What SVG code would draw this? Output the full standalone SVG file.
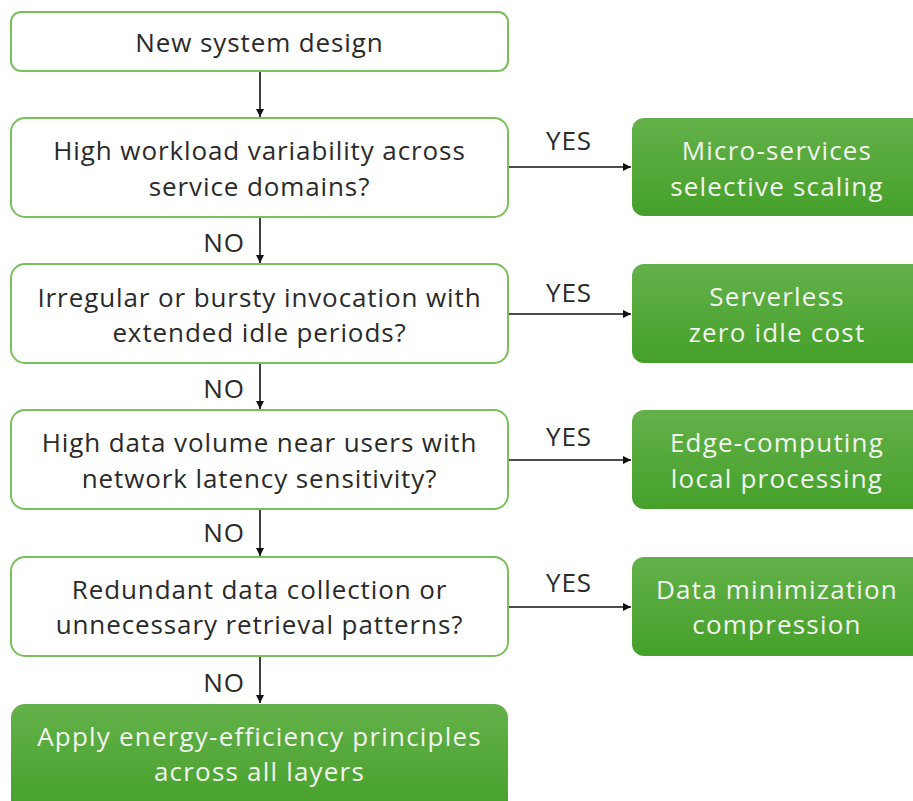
<svg xmlns="http://www.w3.org/2000/svg" width="913" height="801" viewBox="0 0 913 801">
<defs>
<linearGradient id="g" x1="0" y1="0" x2="0" y2="1">
<stop offset="0" stop-color="#63b14a"/>
<stop offset="1" stop-color="#45a02a"/>
</linearGradient>
<marker id="ah" markerWidth="10" markerHeight="10" refX="8" refY="4" orient="auto" markerUnits="userSpaceOnUse">
<path d="M0,0 L8,4 L0,8 Z" fill="#111"/>
</marker>
<style>
.q{fill:#fff;stroke:#79bf5a;stroke-width:2}
.a{fill:url(#g);stroke:none}
.t{font-family:"Open Sans","Liberation Sans",sans-serif;font-size:26px;letter-spacing:0.9px;fill:#2a2a2a;text-anchor:middle;dominant-baseline:central}
.w{font-family:"Open Sans","Liberation Sans",sans-serif;font-size:26px;letter-spacing:1.2px;fill:#f2f5ee;text-anchor:middle;dominant-baseline:central}
.c{stroke:#111;stroke-width:1.6;fill:none;marker-end:url(#ah)}
</style>
</defs>
<rect width="913" height="801" fill="#fff"/>
<g id="connectors">
<line class="c" x1="260" y1="72" x2="260" y2="117"/>
<line class="c" x1="260" y1="218" x2="260" y2="263"/>
<line class="c" x1="260" y1="364" x2="260" y2="409"/>
<line class="c" x1="260" y1="510" x2="260" y2="556"/>
<line class="c" x1="260" y1="657" x2="260" y2="703"/>
<line class="c" x1="509" y1="167" x2="631" y2="167"/>
<line class="c" x1="509" y1="314" x2="631" y2="314"/>
<line class="c" x1="509" y1="460" x2="631" y2="460"/>
<line class="c" x1="509" y1="607" x2="631" y2="607"/>
<text class="t" x="569" y="140">YES</text>
<text class="t" x="569" y="292">YES</text>
<text class="t" x="569" y="436">YES</text>
<text class="t" x="569" y="582">YES</text>
<text class="t" x="224" y="242">NO</text>
<text class="t" x="224" y="388">NO</text>
<text class="t" x="224" y="532">NO</text>
<text class="t" x="224" y="682">NO</text>
</g>
<g id="start">
<rect class="q" x="11" y="12" width="497" height="59" rx="10"/>
<text class="t" x="259.5" y="42">New system design</text>
</g>
<g id="q1">
<rect class="q" x="11" y="118" width="497" height="99" rx="14"/>
<text class="t" x="259.5" y="150">High workload variability across</text>
<text class="t" x="259.5" y="186">service domains?</text>
</g>
<g id="a1">
<rect class="a" x="632" y="118" width="295" height="98" rx="12"/>
<text class="w" x="777" y="150">Micro-services</text>
<text class="w" x="777" y="186">selective scaling</text>
</g>
<g id="q2">
<rect class="q" x="11" y="264" width="497" height="99" rx="14"/>
<text class="t" x="259.5" y="297">Irregular or bursty invocation with</text>
<text class="t" x="259.5" y="332">extended idle periods?</text>
</g>
<g id="a2">
<rect class="a" x="632" y="264" width="295" height="99" rx="12"/>
<text class="w" x="777" y="296">Serverless</text>
<text class="w" x="777" y="332">zero idle cost</text>
</g>
<g id="q3">
<rect class="q" x="11" y="410" width="497" height="99" rx="14"/>
<text class="t" x="259.5" y="442">High data volume near users with</text>
<text class="t" x="259.5" y="478">network latency sensitivity?</text>
</g>
<g id="a3">
<rect class="a" x="632" y="410" width="295" height="99" rx="12"/>
<text class="w" x="777" y="442">Edge-computing</text>
<text class="w" x="777" y="478">local processing</text>
</g>
<g id="q4">
<rect class="q" x="11" y="557" width="497" height="99" rx="14"/>
<text class="t" x="259.5" y="589">Redundant data collection or</text>
<text class="t" x="259.5" y="624">unnecessary retrieval patterns?</text>
</g>
<g id="a4">
<rect class="a" x="632" y="557" width="295" height="99" rx="12"/>
<text class="w" x="777" y="589">Data minimization</text>
<text class="w" x="777" y="624">compression</text>
</g>
<g id="final">
<rect class="a" x="11" y="704" width="497" height="110" rx="14"/>
<text class="w" x="259.5" y="736">Apply energy-efficiency principles</text>
<text class="w" x="259.5" y="771">across all layers</text>
</g>
</svg>
